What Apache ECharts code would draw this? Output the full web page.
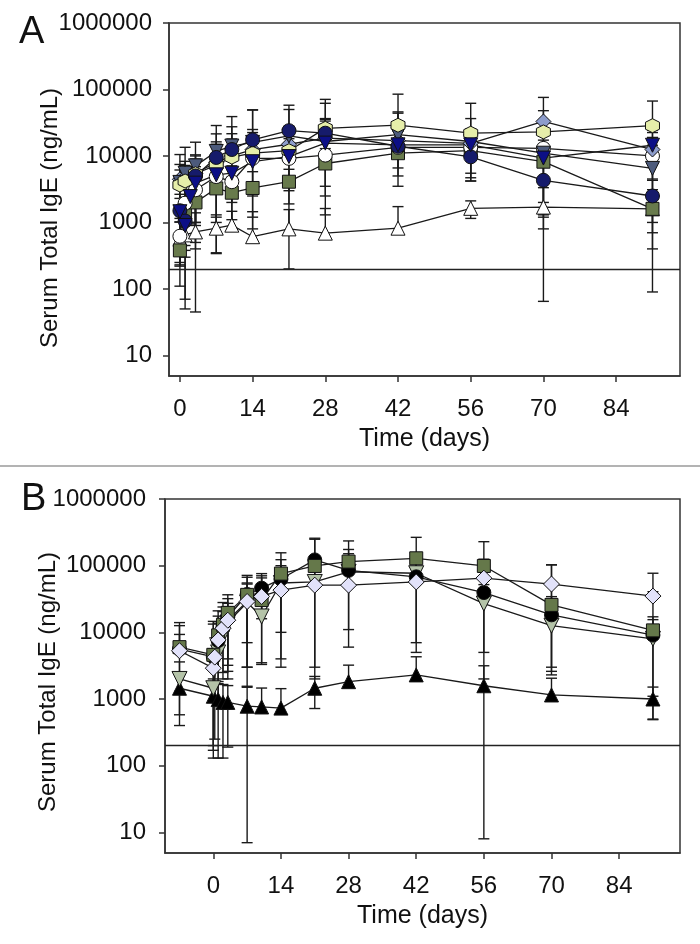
<!DOCTYPE html>
<html>
<head>
<meta charset="utf-8">
<script src="https://cdn.jsdelivr.net/npm/echarts@6.0.0/dist/echarts.min.js"></script>
<style>
  html, body { margin: 0; padding: 0; background: #fff; }
  #chart { width: 700px; height: 944px; }
</style>
</head>
<body>
<div id="chart"></div>
<script>
// ---- data ----
var yTicks = [10, 100, 1000, 10000, 100000, 1000000];
var xTicks = [0, 14, 28, 42, 56, 70, 84];
var lodLine = 200;

// panel A
var daysA = [0, 1, 3, 7, 10, 14, 21, 28, 42, 56, 70, 91];
var daysA2 = [0, 1, 2, 3, 7, 10, 14, 21, 28, 42, 56, 70, 91];

var aWhiteTri = [560, 650, 720, 820, 910, 610, 800, 690, 820, 1630, 1700, 1600];
var aWhiteTriUp = [450, 580, 675, 480, 560, 840, 760, 930, 910, 480, 1635, 1510];
var aWhiteTriDn = [450, 580, 675, 480, 0, 0, 0, 0, 0, 480, 1635, 1510];

var aGreenSq = [380, 1380, 2000, 3250, 2800, 3300, 4100, 7700, 11000, 12000, 8200, 1600];
var aGreenSqUp = [150, 1000, 1500, 2900, 2000, 2500, 2200, 5200, 4400, 7800, 7000, 1200];

var aNavyCirc = [1500, 1050, 5000, 9500, 12500, 17500, 24000, 22000, 14000, 9700, 4300, 2500];
var aNavyCircUp = [800, 600, 4000, 12000, 15000, 32000, 34000, 40000, 30000, 15000, 3500, 1800];

var aNavyTri = [1450, 900, 2450, 3900, 5200, 5500, 8200, 9800, 15600, 14700, 14700, 9300, 14500];
var aNavyTriUp = [1200, 600, 1500, 3000, 4000, 6000, 9000, 14000, 20000, 16000, 10000, 8000, 10000];

var aWhiteCirc = [620, 1950, 3100, 4900, 4100, 9200, 9200, 10300, 13500, 13500, 13000, 10000];
var aWhiteCircUp = [400, 1900, 2500, 5000, 3000, 8000, 9000, 9000, 10000, 9300, 11000, 9000];

var aYellowHex = [3650, 4200, 5400, 7300, 9600, 11000, 12000, 26000, 29000, 22000, 23000, 28500];
var aYellowHexUp = [2500, 3000, 5000, 9000, 12000, 14000, 16000, 45000, 56000, 40000, 25000, 38500];

var aBlueDia = [4450, 4800, 5500, 8000, 10000, 12500, 15000, 18500, 17000, 15500, 33000, 12500];
var aBlueDiaUp = [3000, 3500, 4500, 7000, 8000, 10000, 12000, 15000, 12000, 10000, 43000, 10000];

var aSlateTri = [4000, 5500, 7100, 11700, 14100, 16000, 20000, 16500, 21000, 16500, 11000, 6500];
var aSlateTriUp = [6500, 8000, 9000, 17000, 25000, 33000, 30000, 20000, 25000, 20000, 15000, 8000];

// panel B
var daysB = [-7, 0, 1, 2, 3, 7, 10, 14, 21, 28, 42, 56, 70, 91];
var daysB2 = [-7, 0, 0.3, 1, 2, 3, 7, 10, 14, 21, 28, 42, 56, 70, 91];

var bGreenSq = [6000, 4600, 9000, 13000, 19600, 36500, 30500, 76000, 99000, 115000, 129000, 99000, 25800, 10700];
var bGreenSqUp = [8000, 10000, 12000, 15000, 17000, 35000, 40000, 80000, 150000, 120000, 137000, 130000, 77000, 30000];

var bBlackCirc = [5600, 4300, 7500, 12000, 17000, 37000, 46000, 63000, 122000, 85000, 68000, 39500, 18300, 9100];
var bBlackCircUp = [7000, 9000, 10000, 12000, 15000, 30000, 30000, 60000, 136000, 90000, 70000, 40000, 16000, 8000];

var bGreyTri = [2000, 1450, 5000, 9000, 14000, 28000, 17300, 55000, 57000, 81000, 77000, 27000, 12600, 8000];
var bGreyTriUp = [1600, 1280, 4000, 7000, 10000, 25000, 14000, 45000, 55000, 70000, 70000, 25000, 10000, 7500];

var bDiamond = [5300, 2900, 4250, 7700, 11500, 15200, 29000, 34500, 43000, 51000, 51000, 57000, 65000, 53000, 35000];
var bDiamondUp = [4000, 2770, 4000, 6000, 9000, 12000, 26000, 31000, 39000, 48000, 45000, 52000, 60000, 50000, 42000];

var bBlackTri = [1450, 1100, 980, 890, 890, 780, 760, 730, 1450, 1820, 2300, 1580, 1150, 1000];
var bBlackTriUp = [870, 900, 850, 760, 700, 773, 700, 700, 730, 1400, 2000, 1572, 900, 510];
var bBlackTriDn = [870, 900, 850, 760, 700, 773, 0, 0, 730, 0, 0, 1572, 0, 510];

// ---- chart ----
var FONT = '"Liberation Sans", Arial, sans-serif';
var HEX = 'path://M50,0 L93.3,25 L93.3,75 L50,100 L6.7,75 L6.7,25 Z';

var chart = echarts.init(document.getElementById('chart'), null, { renderer: 'canvas' });

function pairs(days, vals) {
  var out = [];
  for (var i = 0; i < days.length; i++) out.push([days[i], vals[i]]);
  return out;
}

// [day, mean, low, high]; down error defaults to the up error
function barData(days, vals, up, dn) {
  dn = dn || up;
  var out = [];
  for (var i = 0; i < days.length; i++) {
    out.push([days[i], vals[i], dn[i] > 0 ? vals[i] - dn[i] : -1, vals[i] + up[i]]);
  }
  return out;
}

function renderBar(params, api) {
  var x = api.value(0), m = api.value(1), lo = api.value(2), hi = api.value(3);
  var pTop = api.coord([x, hi]);
  var pMid = api.coord([x, m]);
  var pBot = lo > 0 ? api.coord([x, lo]) : pMid;
  var st = { stroke: '#1a1a1a', lineWidth: 1.4 };
  var kids = [
    { type: 'line', shape: { x1: pTop[0], y1: pTop[1], x2: pBot[0], y2: pBot[1] }, style: st },
    { type: 'line', shape: { x1: pTop[0] - 5.5, y1: pTop[1], x2: pTop[0] + 5.5, y2: pTop[1] }, style: st }
  ];
  if (lo > 0) {
    kids.push({ type: 'line', shape: { x1: pBot[0] - 5.5, y1: pBot[1], x2: pBot[0] + 5.5, y2: pBot[1] }, style: st });
  }
  return { type: 'group', children: kids };
}

var series = [];
function addSeries(g, days, vals, up, dn, symbol, size, fill, rotate) {
  series.push({
    type: 'custom',
    xAxisIndex: g, yAxisIndex: g,
    renderItem: renderBar,
    data: barData(days, vals, up, dn),
    clip: true,
    silent: true,
    z: 2
  });
  series.push({
    type: 'line',
    xAxisIndex: g, yAxisIndex: g,
    data: pairs(days, vals),
    symbol: symbol,
    symbolSize: size,
    symbolRotate: rotate || 0,
    showAllSymbol: true,
    lineStyle: { color: '#1a1a1a', width: 1.3 },
    itemStyle: { color: fill, borderColor: '#111', borderWidth: 1 },
    z: 3,
    animation: false
  });
}

// panel A (grid 0)
addSeries(0, daysA, aWhiteTri, aWhiteTriUp, aWhiteTriDn, 'triangle', 14, '#ffffff');
addSeries(0, daysA, aGreenSq, aGreenSqUp, null, 'rect', 13, '#687a4c');
addSeries(0, daysA, aWhiteCirc, aWhiteCircUp, null, 'circle', 14, '#ffffff');
addSeries(0, daysA, aBlueDia, aBlueDiaUp, null, 'diamond', 15, '#8d9dcc');
addSeries(0, daysA, aSlateTri, aSlateTriUp, null, 'triangle', 14, '#4d5b7c', 180);
addSeries(0, daysA, aYellowHex, aYellowHexUp, null, HEX, 14, '#e6eeaa');
addSeries(0, daysA, aNavyCirc, aNavyCircUp, null, 'circle', 14, '#161b6b');
addSeries(0, daysA2, aNavyTri, aNavyTriUp, null, 'triangle', 14, '#0c0f86', 180);

// panel B (grid 1)
addSeries(1, daysB, bBlackTri, bBlackTriUp, bBlackTriDn, 'triangle', 14, '#000000');
addSeries(1, daysB, bGreyTri, bGreyTriUp, null, 'triangle', 15, '#b4c3a8', 180);
addSeries(1, daysB, bBlackCirc, bBlackCircUp, null, 'circle', 14, '#000000');
addSeries(1, daysB, bGreenSq, bGreenSqUp, null, 'rect', 13, '#65784a');
addSeries(1, daysB2, bDiamond, bDiamondUp, null, 'diamond', 16, '#e2e2fa');

// detection limit line in both panels
[0, 1].forEach(function (g) {
  series.push({
    type: 'line',
    xAxisIndex: g, yAxisIndex: g,
    data: [],
    silent: true,
    markLine: {
      silent: true,
      symbol: 'none',
      label: { show: false },
      lineStyle: { color: '#222', width: 1.4, type: 'solid' },
      data: [{ yAxis: lodLine }]
    }
  });
});

function xAxisCfg(g, min, max) {
  return {
    type: 'value', gridIndex: g, min: min, max: max,
    axisLine: { show: true, onZero: false, lineStyle: { color: '#333', width: 1.5 } },
    axisTick: { show: true, length: 6, customValues: xTicks, lineStyle: { color: '#333', width: 1.5 } },
    axisLabel: { customValues: xTicks, margin: 21, fontSize: 24, color: '#111', fontFamily: FONT },
    splitLine: { show: false },
    name: 'Time (days)', nameLocation: 'middle', nameGap: 51,
    nameTextStyle: { fontSize: 25, color: '#111', fontFamily: FONT }
  };
}

function yAxisCfg(g, margin) {
  return {
    type: 'log', gridIndex: g, logBase: 10, min: 4.9, max: 1000000,
    axisLine: { show: true, onZero: false, lineStyle: { color: '#333', width: 1.5 } },
    axisTick: { show: true, length: 6, customValues: yTicks, lineStyle: { color: '#333', width: 1.5 } },
    axisLabel: {
      customValues: yTicks, margin: margin, fontSize: 24, color: '#111', fontFamily: FONT,
      formatter: function (v) { return String(Math.round(v)); }
    },
    minorTick: { show: false },
    splitLine: { show: false }
  };
}

var yName = 'Serum Total IgE (ng/mL)';

var option = {
  backgroundColor: '#ffffff',
  animation: false,
  grid: [
    { left: 169, top: 23, right: 20, height: 353, show: true, borderColor: '#333', borderWidth: 1.5, backgroundColor: 'transparent' },
    { left: 165, top: 499, right: 20, height: 354, show: true, borderColor: '#333', borderWidth: 1.5, backgroundColor: 'transparent' }
  ],
  xAxis: [xAxisCfg(0, -2.1, 96.3), xAxisCfg(1, -10, 96.6)],
  yAxis: [yAxisCfg(0, 17), yAxisCfg(1, 19)],
  graphic: [
    { type: 'line', shape: { x1: 0, y1: 466, x2: 700, y2: 466 }, style: { stroke: '#9a9a9a', lineWidth: 1.5 } },
    { type: 'text', left: 19, top: 14, style: { text: 'A', font: '38px ' + FONT, fill: '#111' } },
    { type: 'text', left: 21, top: 481, style: { text: 'B', font: '38px ' + FONT, fill: '#111' } },
    { type: 'text', x: 50, y: 218, rotation: Math.PI / 2,
      style: { text: yName, font: '24px ' + FONT, fill: '#111', align: 'center', verticalAlign: 'middle' } },
    { type: 'text', x: 48, y: 682, rotation: Math.PI / 2,
      style: { text: yName, font: '24px ' + FONT, fill: '#111', align: 'center', verticalAlign: 'middle' } }
  ],
  series: series
};

chart.setOption(option);
</script>
</body>
</html>
